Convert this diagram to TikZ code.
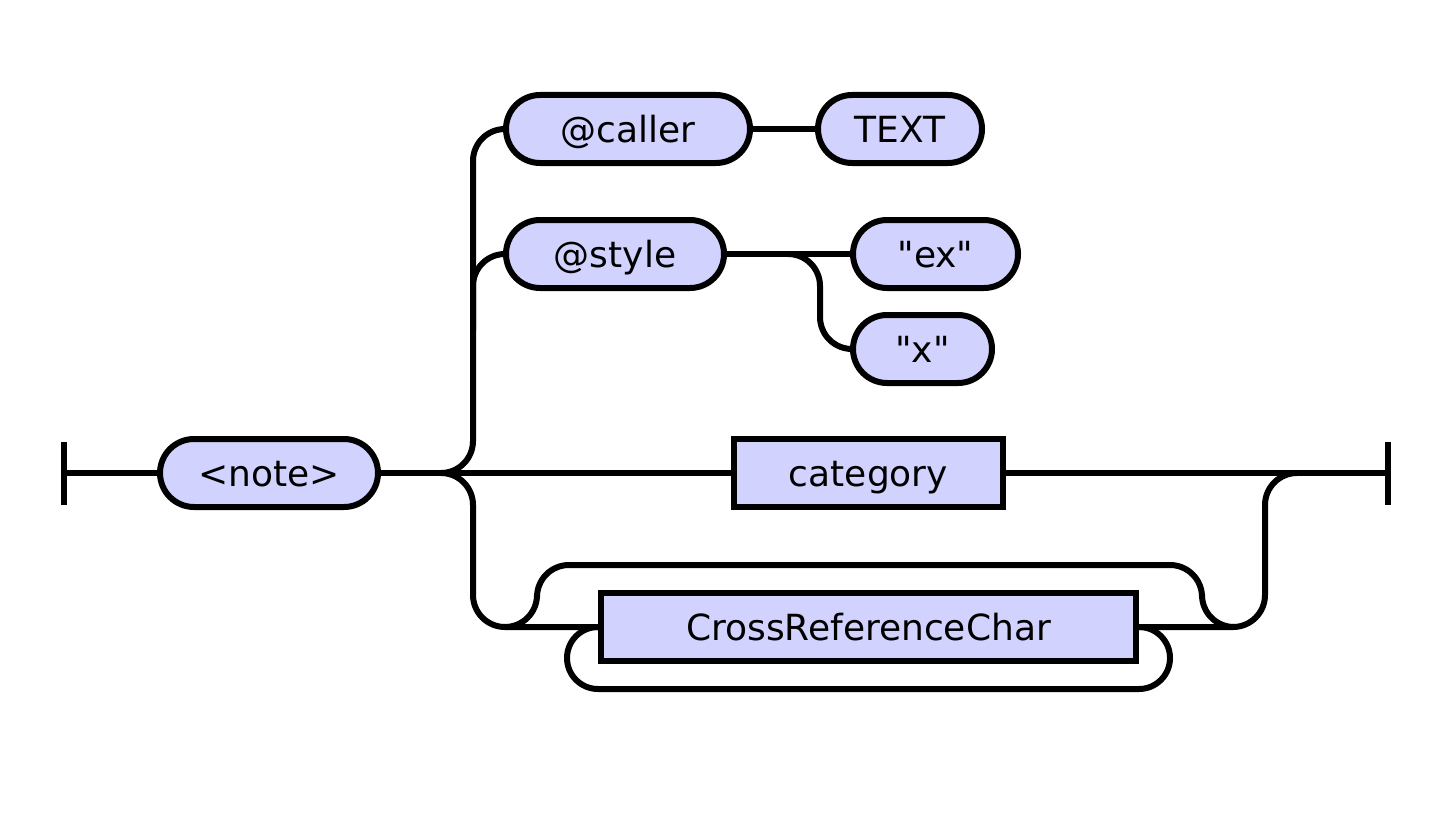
\documentclass[tikz,border=0pt]{standalone}
\usepackage{fontspec}
\setmainfont{DejaVu Sans}[Ligatures=TeXOff]
\definecolor{boxfill}{RGB}{210,210,255}
\begin{document}
\begin{tikzpicture}[x=0.5pt,y=-0.5pt,
  rail/.style={line width=3pt,draw=black},
  rc/.style={rail,rounded corners=16pt},
  boxbase/.style={draw=black,line width=3pt,fill=boxfill,minimum height=34pt,inner sep=0pt,text height=17pt,text depth=4pt,font=\fontsize{18}{20}\selectfont},
  term/.style={boxbase,rounded corners=17pt},
  nonterm/.style={boxbase},
  bar/.style={line width=3pt}]
\useasboundingbox (0,0) rectangle (1450,813);
% nodes
\node[term,minimum width=109pt] (note) at (269,473) {<note>};
\node[term,minimum width=122pt] (caller) at (628,129) {@caller};
\node[term,minimum width=82pt] (text) at (900,129) {TEXT};
\node[term,minimum width=109pt] (style) at (615,254) {@style};
\node[term,minimum width=82.5pt] (ex) at (935.5,254) {"ex"};
\node[term,minimum width=69.5pt] (x) at (922.5,349) {"x"};
\node[nonterm,minimum width=134.5pt] (cat) at (868.5,473) {category};
\node[nonterm,minimum width=267.5pt] (crc) at (868.5,627) {CrossReferenceChar};
% junction coordinates
\coordinate (start) at (64,473);
\coordinate (end) at (1388,473);
\coordinate (j1) at (441,473);
\coordinate (j2) at (788,254);
\coordinate (j3) at (505,627);
\coordinate (j5) at (1297,473);
% start / end bars
\draw[bar] (64,442) -- (64,505);
\draw[bar] (1388,442) -- (1388,505);
% main line
\draw[rail] (start) -- (note.west);
\draw[rail] (note.east) -- (cat.west);
\draw[rail] (cat.east) -- (end);
% upper branches
\draw[rc] (j1) -- (473,473) -- (473,129) -- (caller.west);
\draw[rc] (473,330) -- (473,254) -- (style.west);
\draw[rail] (caller.east) -- (text.west);
\draw[rail] (style.east) -- (ex.west);
\draw[rc] (j2) -- (820,254) -- (820,349) -- (x.west);
% lower branch
\draw[rc] (j1) -- (473,473) -- (473,627) -- (crc.west);
\draw[rc] (j3) -- (537,627) -- (537,565) -- (1202,565) -- (1202,627) -- (1234,627);
\draw[rc] (crc.east) -- (1265,627) -- (1265,473) -- (j5);
% repetition loop
\draw[rail,rounded corners=15.5pt] (crc.east) -- (1170,627) -- (1170,689) -- (567,689) -- (567,627) -- (crc.west);
\end{tikzpicture}
\end{document}
